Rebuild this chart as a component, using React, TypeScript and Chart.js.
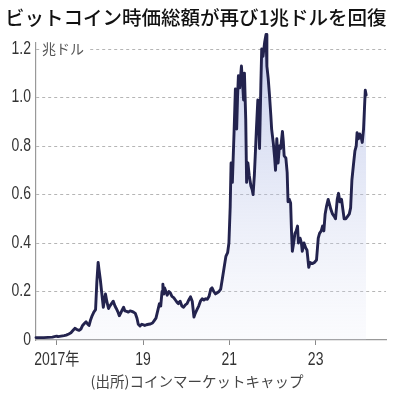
import React, { useEffect, useRef } from "react";
import { Chart, registerables } from "chart.js";

Chart.register(...registerables);

const TITLE = "ビットコイン時価総額が再び1兆ドルを回復";
const SOURCE = "(出所)コインマーケットキャップ";
const UNIT = "兆ドル";

const xTickValues = [2017, 2019, 2021, 2023];
const xTickLabels = ["2017年", "19", "21", "23"];
const yTickValues = [0, 0.2, 0.4, 0.6, 0.8, 1.0, 1.2];
const yTickLabels = ["0", "0.2", "0.4", "0.6", "0.8", "1.0", "1.2"];

// decimal year
const dates = [
  2016.52, 2016.6, 2016.7, 2016.8, 2016.9, 2016.97, 2017.0, 2017.03, 2017.1, 2017.17,
  2017.22, 2017.28, 2017.33, 2017.38, 2017.42, 2017.47, 2017.52, 2017.56, 2017.6, 2017.64,
  2017.68, 2017.72, 2017.75, 2017.78, 2017.82, 2017.86, 2017.9, 2017.93, 2017.96, 2017.98,
  2018.01, 2018.04, 2018.08, 2018.11, 2018.13, 2018.16, 2018.2, 2018.23, 2018.27, 2018.31,
  2018.35, 2018.38, 2018.42, 2018.45, 2018.48, 2018.52, 2018.55, 2018.58, 2018.62, 2018.66,
  2018.7, 2018.74, 2018.78, 2018.82, 2018.86, 2018.89, 2018.93, 2018.97, 2019.0, 2019.04,
  2019.08, 2019.13, 2019.17, 2019.22, 2019.26, 2019.3, 2019.34, 2019.38, 2019.41, 2019.44,
  2019.46, 2019.48, 2019.5, 2019.53, 2019.56, 2019.6, 2019.63, 2019.67, 2019.71, 2019.75,
  2019.79, 2019.82, 2019.86, 2019.9, 2019.94, 2019.98, 2020.02, 2020.06, 2020.1, 2020.14,
  2020.18, 2020.21, 2020.25, 2020.29, 2020.33, 2020.37, 2020.41, 2020.45, 2020.49, 2020.53,
  2020.57, 2020.6, 2020.64, 2020.68, 2020.72, 2020.76, 2020.8, 2020.84, 2020.88, 2020.92,
  2020.96, 2020.99, 2021.02, 2021.04, 2021.07, 2021.11, 2021.14, 2021.17, 2021.19, 2021.21,
  2021.24, 2021.28, 2021.31, 2021.33, 2021.35, 2021.38, 2021.4, 2021.43, 2021.46, 2021.5,
  2021.53, 2021.55, 2021.58, 2021.6, 2021.63, 2021.66, 2021.68, 2021.7, 2021.73, 2021.75,
  2021.78, 2021.82, 2021.85, 2021.87, 2021.9, 2021.93, 2021.96, 2021.98, 2022.02, 2022.05,
  2022.07, 2022.1, 2022.13, 2022.16, 2022.19, 2022.23, 2022.25, 2022.27, 2022.31, 2022.34,
  2022.36, 2022.39, 2022.42, 2022.44, 2022.46, 2022.49, 2022.52, 2022.55, 2022.58, 2022.6,
  2022.64, 2022.67, 2022.69, 2022.73, 2022.77, 2022.8, 2022.84, 2022.87, 2022.92, 2022.97,
  2023.02, 2023.06, 2023.09, 2023.13, 2023.16, 2023.19, 2023.22, 2023.25, 2023.29, 2023.32,
  2023.35, 2023.39, 2023.43, 2023.46, 2023.5, 2023.53, 2023.56, 2023.6, 2023.63, 2023.66,
  2023.7, 2023.74, 2023.78, 2023.81, 2023.84, 2023.88, 2023.91, 2023.94, 2023.96, 2023.99,
  2024.02, 2024.05, 2024.08, 2024.11, 2024.13, 2024.15, 2024.17,
];

// market cap, trillion USD
const marketCap = [
  0.01, 0.01, 0.01, 0.011, 0.012, 0.015, 0.016, 0.014, 0.016, 0.018,
  0.02, 0.025, 0.03, 0.04, 0.048, 0.043, 0.04, 0.045, 0.06, 0.068,
  0.075, 0.065, 0.06, 0.08, 0.1, 0.115, 0.125, 0.24, 0.32, 0.29,
  0.25, 0.2, 0.135, 0.17, 0.19, 0.16, 0.13, 0.14, 0.15, 0.16,
  0.14, 0.13, 0.115, 0.1, 0.11, 0.125, 0.135, 0.12, 0.118, 0.115,
  0.12, 0.118, 0.115, 0.11, 0.09, 0.065, 0.058, 0.065, 0.063, 0.06,
  0.063, 0.065, 0.066, 0.07, 0.08, 0.09, 0.12, 0.15, 0.14, 0.2,
  0.23, 0.19, 0.215, 0.2, 0.185, 0.2, 0.195, 0.18, 0.175, 0.165,
  0.155, 0.15, 0.16, 0.14, 0.135, 0.145, 0.15, 0.165, 0.178, 0.16,
  0.095, 0.11, 0.125, 0.14, 0.16, 0.17, 0.165, 0.17, 0.168, 0.18,
  0.21, 0.215, 0.2, 0.19, 0.195, 0.2, 0.21, 0.255, 0.3, 0.345,
  0.36, 0.4, 0.55, 0.73, 0.65, 0.86, 1.035, 0.87, 1.0, 1.09,
  1.04, 1.13, 1.05, 0.99, 1.1, 0.91, 0.65, 0.73, 0.68, 0.635,
  0.62, 0.6, 0.68, 0.76, 0.88, 0.99, 0.9, 0.79, 1.05, 1.2,
  1.17, 1.23, 1.26, 1.13, 1.08, 1.01, 0.93, 0.87, 0.81, 0.75,
  0.7, 0.83, 0.73, 0.8, 0.79, 0.86, 0.82, 0.76, 0.75, 0.69,
  0.57, 0.58, 0.565, 0.45, 0.366, 0.4, 0.44, 0.45, 0.47, 0.4,
  0.42, 0.4, 0.366, 0.4, 0.38, 0.37, 0.3, 0.32, 0.315, 0.32,
  0.33, 0.42, 0.44, 0.45, 0.47, 0.45, 0.52, 0.55, 0.58, 0.56,
  0.54, 0.52, 0.51, 0.5, 0.58, 0.605, 0.57, 0.58, 0.54, 0.5,
  0.5, 0.51, 0.52, 0.545, 0.66, 0.73, 0.78, 0.8, 0.855, 0.83,
  0.85, 0.84, 0.815, 0.87, 0.95, 1.03, 1.01,
];

const SANS = '"Liberation Sans", Arial, "Noto Sans CJK JP", sans-serif';
const CJK = '"Noto Sans CJK JP", "Noto Sans", sans-serif';
const CONDENSE = 0.8;

function drawCondensed(ctx: any, text: string, x: number, y: number, align: string) {
  const w = ctx.measureText(text).width * CONDENSE;
  let left = x;
  if (align === "right") left = x - w;
  else if (align === "center") left = x - w / 2;
  ctx.save();
  ctx.translate(left, y);
  ctx.scale(CONDENSE, 1);
  ctx.textAlign = "left";
  ctx.fillText(text, 0, 0);
  ctx.restore();
}

const textPlugin = {
  id: "textPlugin",
  beforeDatasetsDraw(chart: any) {
    const { ctx, chartArea, scales } = chart;
    const y = scales.y.getPixelForValue(1.2);
    ctx.save();
    ctx.font = `14px ${CJK}`;
    const w = ctx.measureText(UNIT).width;
    ctx.fillStyle = "#ffffff";
    ctx.fillRect(chartArea.left + 4, y - 8, w + 6, 16);
    ctx.fillStyle = "#555555";
    ctx.textBaseline = "middle";
    ctx.textAlign = "left";
    ctx.fillText(UNIT, chartArea.left + 6, y);
    ctx.restore();
  },
  afterDraw(chart: any) {
    const { ctx, chartArea, scales } = chart;
    ctx.save();
    ctx.fillStyle = "#333333";
    ctx.font = `17.5px ${SANS}`;
    ctx.textBaseline = "middle";
    yTickValues.forEach((v, i) => {
      drawCondensed(ctx, yTickLabels[i], chartArea.left - 5, scales.y.getPixelForValue(v), "right");
    });
    ctx.textBaseline = "top";
    xTickValues.forEach((v, i) => {
      drawCondensed(ctx, xTickLabels[i], scales.x.getPixelForValue(v), chartArea.bottom + 11, "center");
    });
    ctx.fillStyle = "#111111";
    ctx.textBaseline = "middle";
    ctx.textAlign = "left";
    ctx.font = `500 19.5px ${CJK}`;
    ctx.fillText(TITLE, 5, 18);
    ctx.fillStyle = "#444444";
    ctx.textAlign = "center";
    ctx.font = `14.5px ${CJK}`;
    ctx.fillText(SOURCE, 197, 381);
    ctx.restore();
  },
};

export default function App() {
  const ref = useRef<HTMLCanvasElement | null>(null);

  useEffect(() => {
    if (!ref.current) return;
    const chart = new Chart(ref.current, {
      type: "line",
      data: {
        datasets: [
          {
            data: dates.map((d, i) => ({ x: d, y: marketCap[i] })),
            borderColor: "#23234e",
            borderWidth: 2.9,
            borderJoinStyle: "round",
            borderCapStyle: "round",
            pointRadius: 0,
            tension: 0,
            clip: false as any,
            fill: "origin",
            backgroundColor: (c: any) => {
              const area = c.chart.chartArea;
              if (!area) return "rgba(190,198,235,0.5)";
              const g = c.chart.ctx.createLinearGradient(0, area.top, 0, area.bottom);
              g.addColorStop(0, "rgba(160,172,225,0.58)");
              g.addColorStop(0.5, "rgba(185,195,232,0.35)");
              g.addColorStop(1, "rgba(225,228,245,0.15)");
              return g;
            },
          },
        ],
      },
      options: {
        animation: false,
        responsive: false,
        maintainAspectRatio: false,
        layout: { padding: { top: 43, left: 0, right: 13, bottom: 0 } },
        plugins: {
          legend: { display: false },
          tooltip: { enabled: false },
          title: { display: false },
        },
        scales: {
          x: {
            type: "linear",
            min: 2016.52,
            max: 2024.63,
            afterBuildTicks: (axis: any) => {
              axis.ticks = xTickValues.map((v) => ({ value: v }));
            },
            afterFit: (scale: any) => {
              scale.height = 56;
            },
            ticks: { display: false, autoSkip: false, maxRotation: 0 },
            grid: {
              display: true,
              drawOnChartArea: false,
              drawTicks: true,
              tickLength: 5,
              color: "#8a8a8a",
            },
            border: { display: true, color: "#999999", width: 1.2 },
          },
          y: {
            type: "linear",
            min: 0,
            max: 1.225,
            afterBuildTicks: (axis: any) => {
              axis.ticks = yTickValues.map((v) => ({ value: v }));
            },
            afterFit: (scale: any) => {
              scale.width = 36;
            },
            ticks: { display: false },
            grid: {
              display: true,
              drawTicks: false,
              color: (c: any) => (c.tick && c.tick.value === 0 ? "rgba(0,0,0,0)" : "#b5b5b5"),
              lineWidth: 1,
            },
            border: { display: true, color: "#999999", width: 1.2, dash: [3, 3] },
          },
        },
      },
      plugins: [textPlugin],
    });
    return () => chart.destroy();
  }, []);

  return (
    <div style={{ position: "fixed", left: 0, top: 0, width: 399, height: 396, background: "#ffffff" }}>
      <canvas ref={ref} width={399} height={396} style={{ width: 399, height: 396, display: "block" }} />
    </div>
  );
}
